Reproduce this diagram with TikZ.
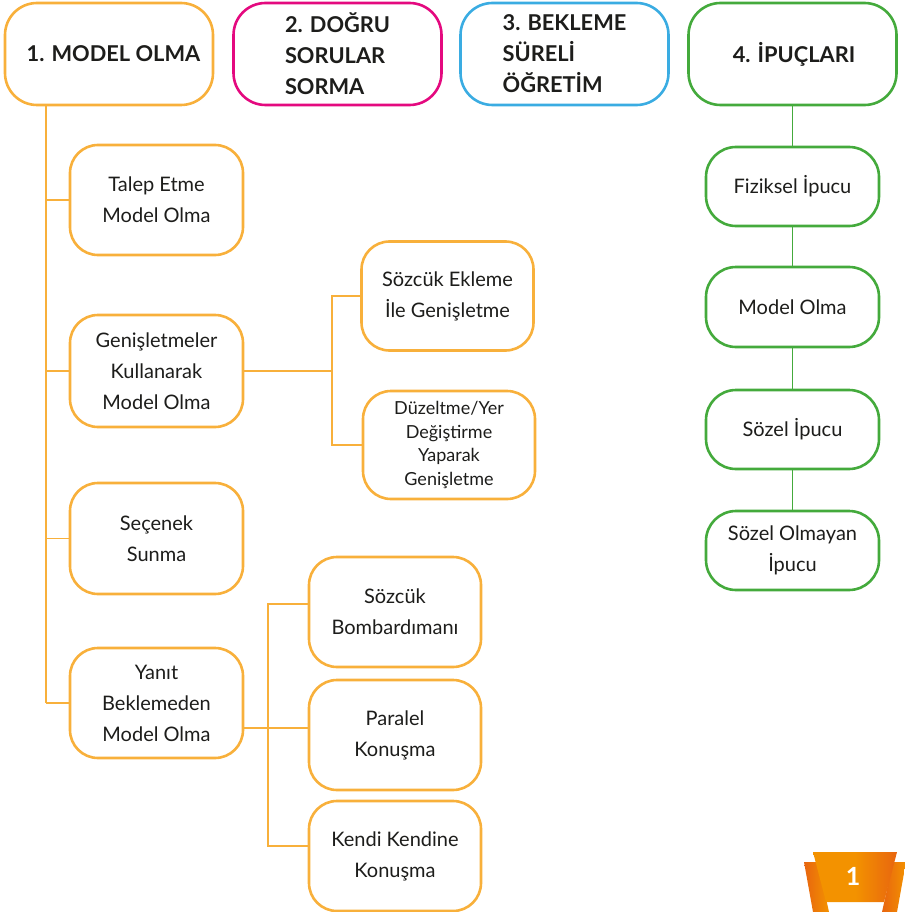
\documentclass[tikz,border=0pt]{standalone}
\usepackage{fontspec}
\setmainfont{Lato}
\definecolor{cor}{HTML}{F8B03B}
\definecolor{cmag}{HTML}{E4097F}
\definecolor{cblu}{HTML}{3AACE2}
\definecolor{cgrn}{HTML}{44AA3C}
\definecolor{ctxt}{HTML}{1D1D1B}
\definecolor{bdark}{HTML}{E8650F}
\definecolor{blight}{HTML}{F39200}
\begin{document}
\begin{tikzpicture}[x=1pt,y=-1pt,
  box/.style={draw, line width=2.6pt, rounded corners=28pt, fill=white, align=center,
    text=ctxt, inner sep=0pt, font=\fontsize{20}{31}\selectfont},
  obox/.style={box, draw=cor, minimum width=173pt, minimum height=110pt},
  gbox/.style={box, draw=cgrn, minimum width=173pt, minimum height=79pt, rounded corners=30pt},
  hbox/.style={box, minimum width=208pt, minimum height=102pt, rounded corners=32pt,
    font=\bfseries\fontsize{21.8}{31}\selectfont},
  oconn/.style={draw=cor, line width=1.6pt},
  gconn/.style={draw=cgrn, line width=1.6pt}
]
\useasboundingbox (0,0) rectangle (904,912);

% headers
\node[hbox, draw=cor] (h1) at (109,54) {\hspace*{9pt}1. MODEL OLMA};
\node[hbox, draw=cmag, align=left] (h2) at (337.5,54) {2. DOĞRU\\SORULAR\\SORMA};
\node[hbox, draw=cblu, align=left] (h3) at (564.5,54) {3. BEKLEME\\SÜRELİ\\ÖĞRETİM};
\node[hbox, draw=cgrn] (h4) at (792.5,54) {\hspace*{3pt}4. İPUÇLARI};

% left column
\node[obox] (talep) at (156.5,200) {Talep Etme\\Model Olma};
\node[obox, minimum height=112pt] (genis) at (156.5,371) {Genişletmeler\\Kullanarak\\Model Olma};
\node[obox, minimum height=111pt] (secenek) at (156.5,538.5) {Seçenek\\Sunma};
\node[obox] (yanit) at (156.5,703) {Yanıt\\Beklemeden\\Model Olma};

% middle column (expansions)
\node[obox, minimum width=172pt, minimum height=109pt] (sozE) at (447.5,296) {Sözcük Ekleme\\İle Genişletme};
\node[obox, minimum width=172pt, minimum height=108pt, font=\fontsize{18}{23.5}\selectfont] (duz) at (449,445) {Düzeltme/Yer\\Değiştirme\\Yaparak\\Genişletme};

% yanit children
\node[obox, minimum width=172pt] (sb) at (395,612) {Sözcük\\Bombardımanı};
\node[obox, minimum width=172pt] (par) at (395,735) {Paralel\\Konuşma};
\node[obox, minimum width=172pt] (kk) at (395,856) {Kendi Kendine\\Konuşma};

% green column
\node[gbox] (fiz) at (792.5,186.5) {Fiziksel İpucu};
\node[gbox, minimum height=80pt] (mo) at (792.5,307) {Model Olma};
\node[gbox] (soz) at (792.5,429.5) {Sözel İpucu};
\node[gbox] (sozo) at (792.5,550.5) {Sözel Olmayan\\İpucu};

% orange trunk
\coordinate (tr) at (46,703);
\draw[oconn] (h1.south -| tr) -- (tr);
\draw[oconn] (talep.west) -- (talep.west -| tr);
\draw[oconn] (genis.west) -- (genis.west -| tr);
\draw[oconn] (secenek.west) -- (secenek.west -| tr);
\draw[oconn] (yanit.west) -- (tr);

% expansion branch
\coordinate (j1) at (332,371);
\draw[oconn] (genis.east) -- (j1);
\draw[oconn] (sozE.west) -- (sozE.west -| j1) -- (duz.west -| j1) -- (duz.west);

% yanit branch
\coordinate (v) at (268,728);
\coordinate (sbp) at ([yshift=8pt]sb.west);
\coordinate (parp) at ([yshift=7pt]par.west);
\coordinate (kkp) at ([yshift=10pt]kk.west);
\draw[oconn] (yanit.east |- v) -- (parp);
\draw[oconn] (sbp) -- (sbp -| v) -- (kkp -| v) -- (kkp);

% green connectors
\draw[gconn] (h4.south) -- (fiz.north);
\draw[gconn] (fiz.south) -- (mo.north);
\draw[gconn] (mo.south) -- (soz.north);
\draw[gconn] (soz.south) -- (sozo.north);

% badge
\shade[left color=bdark, right color=blight] (804,862) -- (818,862) -- (829,912) -- (813,912) -- cycle;
\shade[left color=bdark, right color=blight] (893,862) -- (906,862) -- (897,912) -- (882,912) -- cycle;
\shade[left color=blight, right color=bdark, middle color=blight] (813,852) -- (897,852) -- (884,902) -- (826,902) -- cycle;
\node[text=white, font=\bfseries\fontsize{25}{25}\selectfont, inner sep=0pt] (badge) at (853,876) {1};
\end{tikzpicture}
\end{document}
